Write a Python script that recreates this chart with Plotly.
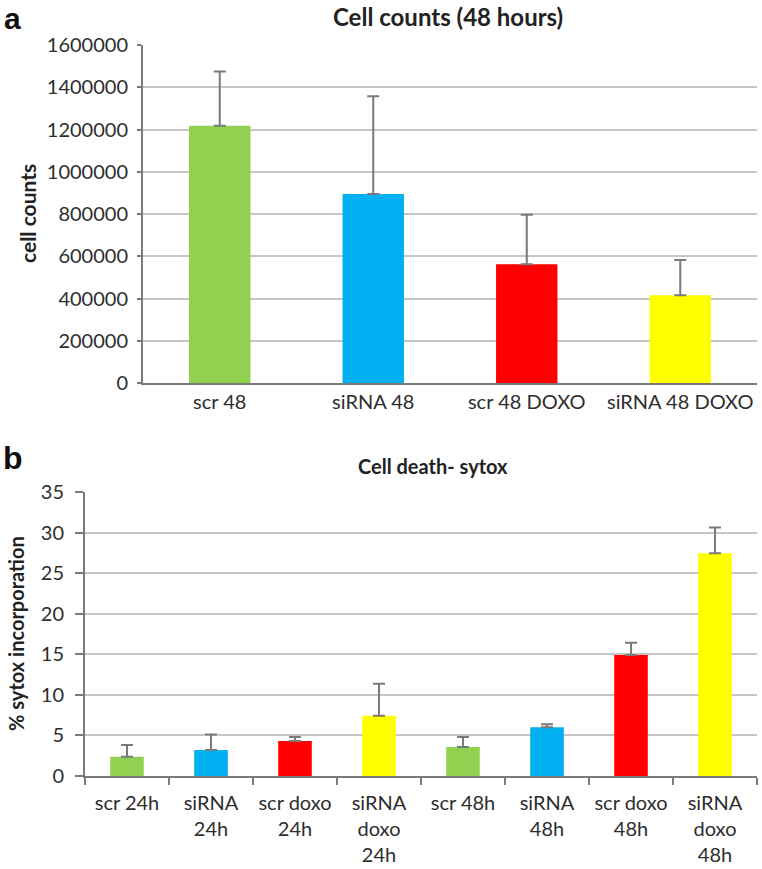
import plotly.graph_objects as go

# ---- Panel a data ----
a_categories = ["scr 48", "siRNA 48", "scr 48 DOXO", "siRNA 48 DOXO"]
a_values = [1218000, 895000, 562000, 415000]
a_errors = [257000, 462000, 235000, 167000]

# ---- Panel b data ----
b_categories = ["scr 24h", "siRNA<br>24h", "scr doxo<br>24h", "siRNA<br>doxo<br>24h",
                "scr 48h", "siRNA<br>48h", "scr doxo<br>48h", "siRNA<br>doxo<br>48h"]
b_values = [2.38, 3.21, 4.32, 7.44, 3.58, 6.0, 14.93, 27.47]
b_errors = [1.44, 1.9, 0.5, 3.95, 1.23, 0.37, 1.5, 3.2]

a_colors = ["#92D050", "#00B0F0", "#FF0000", "#FFFF00"]
b_colors = a_colors + a_colors

FONT = "Lato, 'Liberation Sans', Arial, sans-serif"
TXT = "#2e2e2e"
AXC = "#7a7a7a"
GRID = "#c6c6c6"

W, H = 762, 869
def px(x):
    return x / W
def py(y):
    return 1 - y / H

fig = go.Figure()
fig.add_trace(go.Bar(
    x=a_categories, y=a_values, marker=dict(color=a_colors, line=dict(width=0)),
    error_y=dict(type="data", array=a_errors, arrayminus=[0] * len(a_errors), symmetric=False,
                 color=AXC, thickness=2, width=6),
    xaxis="x", yaxis="y", hoverinfo="x+y"))
fig.add_trace(go.Bar(
    x=b_categories, y=b_values, marker=dict(color=b_colors, line=dict(width=0)),
    error_y=dict(type="data", array=b_errors, arrayminus=[0] * len(b_errors), symmetric=False,
                 color=AXC, thickness=2, width=6),
    xaxis="x2", yaxis="y2", hoverinfo="x+y"))

tickfont = dict(family=FONT, size=20, color=TXT)

fig.update_layout(
    width=W, height=H,
    margin=dict(l=0, r=0, t=0, b=0, autoexpand=False),
    paper_bgcolor="white", plot_bgcolor="white",
    showlegend=False, bargap=0.6,
    font=dict(family=FONT, color=TXT),
    xaxis=dict(domain=[px(143), px(757)], anchor="y", showline=True, linecolor=AXC, linewidth=2,
               ticks="", tickfont=tickfont, showgrid=False, zeroline=False, automargin=False),
    yaxis=dict(domain=[py(383), py(45)], anchor="x", range=[0, 1600000], dtick=200000,
               tickformat="d", showgrid=True, gridcolor=GRID, gridwidth=1.5,
               showline=True, linecolor=AXC, linewidth=2, ticks="outside", ticklen=4,
               tickcolor=AXC, tickwidth=2, tickfont=tickfont, zeroline=False, automargin=False,
               ticklabelstandoff=5),
    xaxis2=dict(domain=[px(85), px(757)], anchor="y2", showline=True, linecolor=AXC, linewidth=2,
                ticks="outside", tickson="boundaries", ticklen=7, tickcolor=AXC, tickwidth=2,
                tickfont=tickfont, showgrid=False, zeroline=False, automargin=False,
                ticklabelstandoff=8),
    yaxis2=dict(domain=[py(776), py(492.3)], anchor="x2", range=[0, 35], dtick=5,
                showgrid=True, gridcolor=GRID, gridwidth=1.5,
                showline=True, linecolor=AXC, linewidth=2, ticks="outside", ticklen=8,
                tickcolor=AXC, tickwidth=2, tickfont=tickfont, zeroline=False, automargin=False,
                ticklabelstandoff=7),
    annotations=[
        dict(text="<b>a</b>", x=px(2), y=py(0), xref="paper", yref="paper", xanchor="left",
             yanchor="top", showarrow=False, font=dict(family="'Liberation Sans', Arial", size=30, color="#111")),
        dict(text="<b>b</b>", x=px(1), y=py(438), xref="paper", yref="paper", xanchor="left",
             yanchor="top", showarrow=False, font=dict(family="'Liberation Sans', Arial", size=32, color="#111")),
        dict(text="<b>Cell counts (48 hours)</b>", x=px(448), y=py(16), xref="paper", yref="paper",
             xanchor="center", yanchor="middle", showarrow=False, font=dict(family=FONT, size=24, color="#222")),
        dict(text="<b>Cell death- sytox</b>", x=px(433), y=py(466), xref="paper", yref="paper",
             xanchor="center", yanchor="middle", showarrow=False, font=dict(family=FONT, size=20, color="#222")),
        dict(text="<b>cell counts</b>", x=px(27), y=py(214), xref="paper", yref="paper",
             xanchor="center", yanchor="middle", textangle=-90, showarrow=False,
             font=dict(family=FONT, size=21, color="#222")),
        dict(text="<b>% sytox incorporation</b>", x=px(16), y=py(634), xref="paper", yref="paper",
             xanchor="center", yanchor="middle", textangle=-90, showarrow=False,
             font=dict(family=FONT, size=20, color="#222")),
    ],
)

fig.write_html("out.html", config={"displayModeBar": False},
               post_script="document.body.style.margin='0';document.body.style.overflow='hidden';")
